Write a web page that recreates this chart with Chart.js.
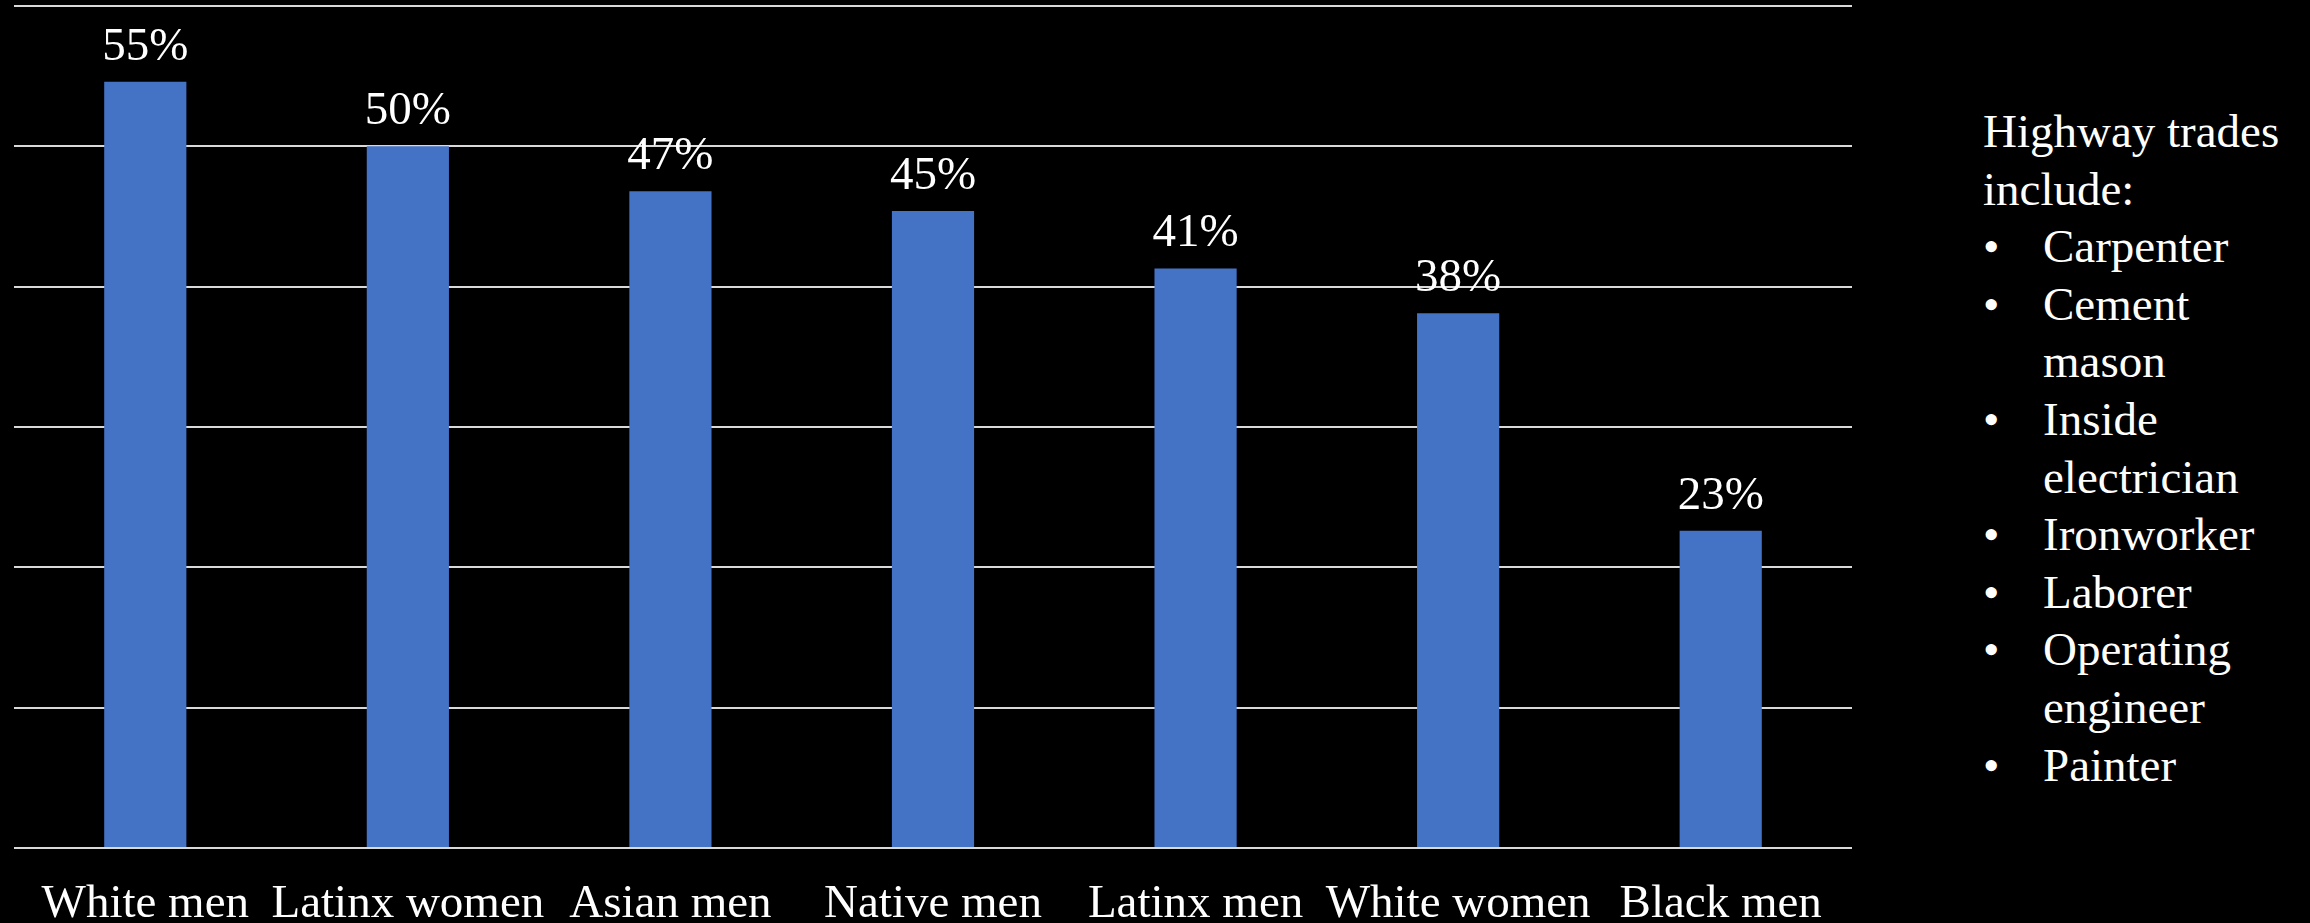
<!DOCTYPE html>
<html>
<head>
<meta charset="utf-8">
<script src="https://cdn.jsdelivr.net/npm/chart.js@4.4.0/dist/chart.umd.min.js"></script>
<style>
  html, body { margin: 0; padding: 0; background: #000; overflow: hidden; }
  body { width: 2310px; height: 923px; position: relative; }
  #c { position: absolute; left: 0; top: 0; }
  #side { position: absolute; left: 1983px; top: 103px; color: #fff;
          font-family: 'Liberation Serif', 'LiberationSerif', 'Times New Roman', Times, 'DejaVu Serif', serif; font-size: 47px; line-height: 57.6px; white-space: nowrap; }
  #side .item { position: relative; padding-left: 60px; }
  #side .item .b { position: absolute; left: 0; top: 0; }
</style>
</head>
<body>
<canvas id="c" width="1866" height="923"></canvas>
<div id="side"></div>
<script>
const categories = ['White men', 'Latinx women', 'Asian men', 'Native men', 'Latinx men', 'White women', 'Black men'];
const values = [54.6, 50.0, 46.8, 45.4, 41.3, 38.1, 22.6];
const valueLabels = ['55%', '50%', '47%', '45%', '41%', '38%', '23%'];
const yTicks = [0, 10, 20, 30, 40, 50, 60];
const sideTitle = ['Highway trades', 'include:'];
const sideItems = [['Carpenter'], ['Cement', 'mason'], ['Inside', 'electrician'], ['Ironworker'], ['Laborer'], ['Operating', 'engineer'], ['Painter']];

const FONT = "'Liberation Serif', 'LiberationSerif', 'Times New Roman', Times, 'DejaVu Serif', serif";

const side = document.getElementById('side');
sideTitle.forEach(t => { const d = document.createElement('div'); d.textContent = t; side.appendChild(d); });
sideItems.forEach(lines => {
  const d = document.createElement('div'); d.className = 'item';
  const b = document.createElement('span'); b.className = 'b'; b.textContent = '•'; d.appendChild(b);
  lines.forEach((l, i) => { if (i) d.appendChild(document.createElement('br')); d.appendChild(document.createTextNode(l)); });
  side.appendChild(d);
});

const valueLabelPlugin = {
  id: 'valueLabels',
  afterDatasetsDraw(chart) {
    const ctx = chart.ctx;
    const meta = chart.getDatasetMeta(0);
    ctx.save();
    ctx.fillStyle = '#ffffff';
    ctx.font = '47px ' + FONT;
    ctx.textAlign = 'center';
    ctx.textBaseline = 'alphabetic';
    meta.data.forEach((bar, i) => {
      ctx.fillText(valueLabels[i], bar.x, bar.y - 22);
    });
    ctx.restore();
  }
};

new Chart(document.getElementById('c'), {
  type: 'bar',
  data: {
    labels: categories,
    datasets: [{
      data: values,
      backgroundColor: '#4472C4',
      borderWidth: 0,
      barPercentage: 0.313,
      categoryPercentage: 1.0
    }]
  },
  options: {
    responsive: false,
    devicePixelRatio: 1,
    animation: false,
    layout: { padding: { left: 14, right: 14, top: 6, bottom: 0 } },
    plugins: { legend: { display: false }, tooltip: { enabled: false } },
    scales: {
      x: {
        grid: { display: false, drawTicks: false },
        border: { display: false },
        afterFit(scale) { scale.height = 75; },
        ticks: {
          color: '#ffffff',
          font: { family: FONT, size: 47, lineHeight: 1.2 },
          autoSkip: false, maxRotation: 0, minRotation: 0,
          padding: 28
        }
      },
      y: {
        min: yTicks[0], max: yTicks[yTicks.length - 1],
        afterBuildTicks(scale) { scale.ticks = yTicks.map(v => ({ value: v })); },
        grid: { color: '#d9d9d9', lineWidth: 2, drawTicks: false },
        border: { display: false },
        ticks: { display: false }
      }
    }
  },
  plugins: [valueLabelPlugin]
});
</script>
</body>
</html>
